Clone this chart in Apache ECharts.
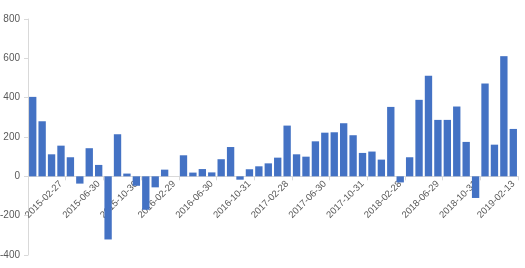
<!DOCTYPE html>
<html><head><meta charset="utf-8">
<script src="https://cdn.jsdelivr.net/npm/echarts@6/dist/echarts.min.js"></script>
<style>html,body{margin:0;padding:0;background:#fff}#c{width:525px;height:268px}</style>
</head><body><div id="c"></div>
<script>
const categories = ["2014-11-28","2014-12-31","2015-01-30","2015-02-27","2015-03-31","2015-04-30","2015-05-29","2015-06-30","2015-07-31","2015-08-31","2015-09-30","2015-10-30","2015-11-30","2015-12-31","2016-01-29","2016-02-29","2016-03-31","2016-04-29","2016-05-31","2016-06-30","2016-07-29","2016-08-31","2016-09-30","2016-10-31","2016-11-30","2016-12-30","2017-01-26","2017-02-28","2017-03-31","2017-04-28","2017-05-31","2017-06-30","2017-07-31","2017-08-31","2017-09-29","2017-10-31","2017-11-30","2017-12-29","2018-01-31","2018-02-28","2018-03-30","2018-04-27","2018-05-31","2018-06-29","2018-07-31","2018-08-31","2018-09-28","2018-10-31","2018-11-30","2018-12-28","2019-01-31","2019-02-13"];
const values = [404,280,112,156,97,-37,143,58,-321,214,14,-48,-170,-56,34,0,107,19,37,20,87,149,-17,36,51,66,95,258,112,100,178,222,224,270,209,119,126,85,353,-31,97,389,511,287,287,355,175,-110,472,161,611,241];
const yTicks = [-400,-200,0,200,400,600,800];

const gridTop = 19, gridH = 236;
const zeroOffset = -gridH * (0 - yTicks[0]) / (yTicks[yTicks.length-1] - yTicks[0]);

const chart = echarts.init(document.getElementById('c'), null, {renderer:'canvas'});
chart.setOption({
  animation:false,
  grid:{left:28,right:7,top:gridTop,height:gridH,containLabel:false,outerBoundsMode:'none'},
  xAxis:{
    type:'category', data:categories, offset:zeroOffset,
    axisLine:{onZero:false,lineStyle:{color:'#d9d9d9'}},
    axisTick:{show:true,interval:(i)=>i%4===0,lineStyle:{color:'#d9d9d9'},length:4},
    axisLabel:{interval:(i)=>i%4===3,rotate:45,fontSize:9.5,color:'#595959',margin:6,fontFamily:'Liberation Sans',hideOverlap:false}
  },
  yAxis:{
    type:'value', min:yTicks[0], max:yTicks[yTicks.length-1], interval:200,
    axisLine:{show:true,lineStyle:{color:'#d9d9d9'}},
    axisTick:{show:true,length:4,lineStyle:{color:'#d9d9d9'}},
    splitLine:{show:false},
    axisLabel:{fontSize:10,color:'#595959',margin:8,fontFamily:'Liberation Sans'}
  },
  series:[{type:'bar',data:values,barCategoryGap:'22%',itemStyle:{color:'#4472C4'}}]
});
</script></body></html>
